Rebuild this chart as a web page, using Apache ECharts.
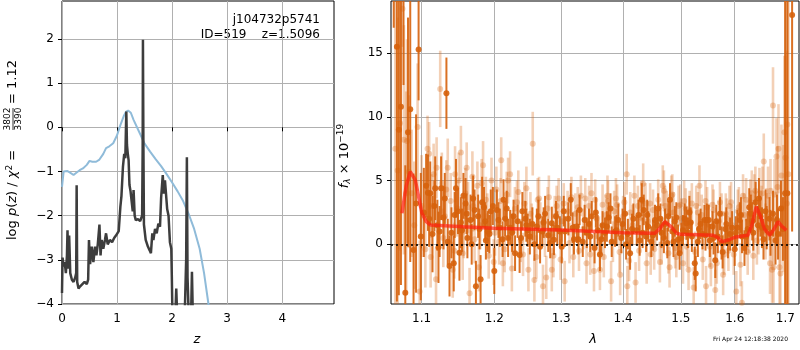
<!DOCTYPE html>
<html>
<head>
<meta charset="utf-8">
<script src="https://cdn.jsdelivr.net/npm/echarts@6.0.0/dist/echarts.min.js"></script>
<style>
html, body { margin: 0; padding: 0; background: #fff; }
#chart { width: 800px; height: 350px; }
</style>
</head>
<body>
<div id="chart"></div>
<script>
// ---- left panel: redshift probability ----
var zTicks = [0, 1, 2, 3, 4];
var pTicks = [-4, -3, -2, -1, 0, 1, 2];

// dark line: log p(z)
var zFit = [0.000, 0.010, 0.030, 0.050, 0.070, 0.090, 0.100, 0.115, 0.130, 0.150, 0.180, 0.210, 0.240, 0.258, 0.266, 0.276,
  0.300, 0.330, 0.370, 0.410, 0.450, 0.475, 0.490, 0.510, 0.540, 0.570, 0.600, 0.625, 0.650, 0.680, 0.700, 0.720, 0.750,
  0.780, 0.800, 0.830, 0.870, 0.910, 0.950, 0.980, 1.000, 1.030, 1.047, 1.060, 1.080, 1.107, 1.130, 1.150, 1.168, 1.180,
  1.195, 1.210, 1.225, 1.245, 1.265, 1.285, 1.300, 1.320, 1.340, 1.380, 1.420, 1.455, 1.465, 1.470, 1.478, 1.488, 1.520,
  1.560, 1.590, 1.615, 1.640, 1.660, 1.690, 1.720, 1.750, 1.780, 1.800, 1.830, 1.850, 1.870, 1.910, 1.935, 1.960, 1.985,
  1.995, 2.005, 2.060, 2.075, 2.090, 2.230, 2.255, 2.268, 2.280, 2.300, 2.345, 2.360, 2.375, 4.940];
var logpFit = [-3.75, -2.95, -3.15, -3.05, -3.30, -2.90, -2.33, -3.20, -2.45, -3.30, -3.45, -3.50, -3.40, -3.30, -1.31, -3.50,
  -3.65, -3.60, -3.55, -3.50, -3.55, -3.45, -2.55, -3.10, -2.70, -3.05, -2.70, -2.90, -2.65, -2.20, -2.90, -2.55, -2.75,
  -2.55, -2.40, -2.65, -2.55, -2.60, -2.50, -2.45, -2.45, -2.35, -2.35, -1.80, -1.55, -0.89, -0.60, -0.70, 0.36, -0.40,
  -0.60, -0.75, -1.30, -1.45, -1.42, -1.90, -1.42, -2.00, -2.10, -2.08, -2.12, -2.00, -0.50, 1.98, -0.30, -2.20, -2.55,
  -2.70, -2.78, -2.85, -2.40, -2.55, -2.30, -2.40, -2.18, -2.25, -1.60, -1.08, -1.50, -1.20, -1.85, -2.00, -2.60, -2.75,
  -3.40, -4.20, -4.20, -3.65, -4.20, -4.20, -3.00, -0.68, -3.40, -4.20, -4.20, -3.27, -4.20, -4.20];

// light blue line: chi2 curve
var zChi = [0.000, 0.030, 0.100, 0.140, 0.210, 0.260, 0.320, 0.380, 0.450, 0.500, 0.550, 0.620, 0.680, 0.750, 0.800,
  0.860, 0.930, 1.000, 1.060, 1.120, 1.160, 1.200, 1.250, 1.300, 1.400, 1.500, 1.600, 1.700, 1.800, 1.900, 2.000,
  2.100, 2.200, 2.300, 2.400, 2.500, 2.580, 2.660, 2.720];
var logpChi = [-1.35, -1.00, -0.99, -1.02, -1.08, -1.03, -0.97, -0.93, -0.85, -0.76, -0.78, -0.78, -0.73, -0.60, -0.47,
  -0.43, -0.36, -0.18, 0.05, 0.25, 0.35, 0.38, 0.33, 0.17, -0.10, -0.37, -0.55, -0.72, -0.88, -1.06, -1.25,
  -1.45, -1.67, -1.96, -2.30, -2.75, -3.30, -4.00, -4.60];

// ---- right panel: spectrum ----
var lamTicks = [1.1, 1.2, 1.3, 1.4, 1.5, 1.6, 1.7];
var fluxTicks = [0, 5, 10, 15];

// strong (dark) points
var lamHi = [1.0640, 1.0680, 1.0705, 1.0732, 1.0765, 1.0788, 1.0823, 1.0852, 1.0895, 1.0928, 1.0961, 1.0990, 1.1030,
  1.1060, 1.1084, 1.1115, 1.1145, 1.1181, 1.1210, 1.1225, 1.1260, 1.1292, 1.1332, 1.1374, 1.1400, 1.1432, 1.1463, 1.1490,
  1.1510, 1.1530, 1.1565, 1.1594, 1.1620, 1.1664, 1.1700, 1.1739, 1.1770, 1.1805, 1.1827, 1.1853, 1.1880, 1.1907, 1.1950,
  1.2000, 1.2037, 1.2080, 1.2133, 1.2157, 1.2200, 1.2259, 1.2302, 1.2340, 1.2369, 1.2410, 1.2454, 1.2490, 1.2522, 1.2560,
  1.2627, 1.2676, 1.2710, 1.2752, 1.2800, 1.2855, 1.2888, 1.2940, 1.3009, 1.3060, 1.3112, 1.3150, 1.3200, 1.3245, 1.3290,
  1.3340, 1.3404, 1.3440, 1.3484, 1.3530, 1.3580, 1.3617, 1.3660, 1.3700, 1.3760, 1.3810, 1.3866, 1.3920, 1.3970, 1.4033,
  1.4080, 1.4117, 1.4173, 1.4230, 1.4280, 1.4316, 1.4350, 1.4390, 1.4427, 1.4480, 1.4544, 1.4600, 1.4657, 1.4720, 1.4760,
  1.4808, 1.4850, 1.4893, 1.4951, 1.4979, 1.5040, 1.5101, 1.5155, 1.5200, 1.5253, 1.5270, 1.5330, 1.5395, 1.5430, 1.5474,
  1.5530, 1.5580, 1.5632, 1.5680, 1.5720, 1.5770, 1.5820, 1.5870, 1.5912, 1.6000, 1.6050, 1.6098, 1.6140, 1.6188, 1.6250,
  1.6312, 1.6360, 1.6405, 1.6450, 1.6498, 1.6560, 1.6623, 1.6680, 1.6750, 1.6800, 1.6851, 1.6910, 1.6950, 1.6994, 1.7040,
  1.7137,
  1.1100, 1.1170, 1.1240, 1.1310, 1.1350, 1.1445, 1.1545, 1.1610, 1.1680, 1.1720, 1.1790, 1.1870, 1.1930, 1.1980, 1.2060,
  1.2120, 1.2180, 1.2230, 1.2280, 1.2390, 1.2470, 1.2590, 1.2650, 1.2730, 1.2830, 1.2920, 1.2980, 1.3040, 1.3180, 1.3270,
  1.3370, 1.3460, 1.3550, 1.3640, 1.3730, 1.3790, 1.3890, 1.3990, 1.4050, 1.4150, 1.4260, 1.4330, 1.4410, 1.4510, 1.4580,
  1.4640, 1.4700, 1.4780, 1.4870, 1.4920, 1.5010, 1.5070, 1.5130, 1.5180, 1.5310, 1.5360, 1.5450, 1.5510, 1.5600, 1.5650,
  1.5750, 1.5840, 1.5950, 1.6020, 1.6120, 1.6220, 1.6280, 1.6340, 1.6470, 1.6530, 1.6600, 1.6700, 1.6830];
var fluxHi = [20.0, 15.5, 9.0, 10.8, 20.5, -3.8, 8.8, 10.6, -0.45, 3.2, 15.3, 0.6, 2.5,
  4.6, 4.05, 4.0, 0.8, 4.4, 1.5, -0.24, 4.4, 2.1, 11.86, -1.7, 0.9, -1.5, 4.4, 2.6,
  -0.66, 1.7, 3.8, 3.2, 0.5, 1.9, 3.6, -3.3, 2.2, -2.75, 3.3, 2.9, 0.3, 1.0, 2.6,
  -2.1, 2.7, 1.3, 3.5, 2.0, 0.5, 0.9, -0.7, 1.8, -0.85, 2.6, 2.0, 1.1, 0.6, 1.6,
  1.4, -0.2, 1.0, 2.4, 0.7, 1.65, 0.35, 1.3, -0.2, 1.0, 2.0, 3.5, 0.4, 1.4, 2.7,
  0.2, 0.9, 1.6, 2.2, -0.3, 1.1, -0.8, 1.5, 0.9, 2.1, 0.2, 1.0, 1.9, 0.5, 2.4,
  0.8, -0.7, 2.0, 1.1, 0.3, 3.5, 2.7, 0.6, 1.4, 0.2, 1.9, 2.8, 0.9, 1.6, 0.1,
  3.5, 1.0, 1.8, 0.35, -0.7, 1.1, 1.65, 2.5, 0.6, -1.5, -2.3, 1.2, 0.8, 1.9, 1.9,
  0.3, 1.4, -1.25, 0.6, 2.4, -0.6, 1.2, 0.2, 0.8, -0.4, 1.3, 1.9, 0.6, -0.3, 1.2,
  2.4, 0.9, 3.3, 1.5, 2.2, 0.4, 1.3, 2.0, 2.4, 0.3, 0.8, 2.8, 1.2, 4.0, 4.0,
  18.0,
  2.0, 3.0, 1.0, 3.6, 0.2, 2.3, 1.1, 2.4, 0.0, 2.7, 1.2, 1.8, 0.8, 3.0, 1.9,
  0.4, 2.8, 1.3, 2.2, 0.5, 1.5, 0.0, 2.2, 1.7, 0.1, 2.2, 1.0, 2.6, 1.3, 0.4,
  1.9, 0.6, 2.5, 0.4, 1.4, 2.8, 1.1, 1.6, 0.0, 1.2, 2.3, 0.9, 2.3, 0.7, 1.5,
  2.0, 0.5, 2.2, 0.2, 2.1, 0.5, 2.0, 0.9, 1.7, 0.2, 1.6, 0.7, 1.9, 0.5, 1.8,
  0.1, 1.6, 1.3, 0.9, 2.3, 0.6, 2.9, 1.8, 3.6, 1.3, 2.6, 0.9, 1.9];
var errHi = [3.0, 20, 13, 14, 8, 10, 9, 12, 6, 7, 4, 5, 3.5,
  2.5, 3, 2.5, 3, 2.5, 2, 2.8, 2.5, 2.5, 2.8, 2.4, 2.0, 2.2, 2.3, 1.8,
  2.2, 2.0, 1.8, 2.0, 1.6, 2.0, 1.8, 2.0, 1.7, 1.9, 2.0, 1.6, 1.5, 1.6, 1.7,
  1.8, 1.6, 1.5, 1.6, 1.4, 1.5, 1.5, 1.4, 1.3, 1.4, 1.5, 1.4, 1.3, 1.4, 1.3,
  1.4, 1.3, 1.2, 1.4, 1.3, 1.3, 1.2, 1.3, 1.3, 1.2, 1.3, 1.3, 1.2, 1.3, 1.2,
  1.2, 1.2, 1.2, 1.2, 1.2, 1.2, 1.3, 1.1, 1.2, 1.2, 1.2, 1.2, 1.3, 1.2, 1.3,
  1.2, 1.3, 1.2, 1.2, 1.2, 1.3, 1.2, 1.2, 1.2, 1.2, 1.2, 1.2, 1.2, 1.2, 1.2,
  1.3, 1.2, 1.2, 1.2, 1.3, 1.2, 1.3, 1.3, 1.2, 1.3, 1.4, 1.2, 1.2, 1.2, 1.3,
  1.3, 1.2, 1.4, 1.3, 1.3, 1.3, 1.3, 1.3, 1.3, 1.3, 1.4, 1.4, 1.3, 1.4, 1.4,
  1.5, 1.4, 1.6, 1.5, 1.6, 1.6, 1.7, 1.7, 1.8, 1.9, 2.0, 2.2, 2.5, 16, 16,
  17,
  2.2, 2.0, 2.0, 2.0, 1.8, 1.8, 1.7, 1.6, 1.6, 1.6, 1.6, 1.5, 1.5, 1.5, 1.4,
  1.4, 1.4, 1.4, 1.3, 1.3, 1.3, 1.3, 1.3, 1.2, 1.2, 1.2, 1.2, 1.2, 1.2, 1.2,
  1.2, 1.2, 1.2, 1.2, 1.2, 1.2, 1.2, 1.2, 1.2, 1.2, 1.2, 1.2, 1.2, 1.2, 1.2,
  1.2, 1.2, 1.2, 1.2, 1.2, 1.2, 1.2, 1.2, 1.2, 1.2, 1.2, 1.2, 1.2, 1.3, 1.3,
  1.3, 1.3, 1.3, 1.3, 1.4, 1.4, 1.5, 1.5, 1.6, 1.6, 1.7, 1.8, 2.0];

// weak (light) points
var lamLo = [1.0660, 1.0690, 1.0720, 1.0752, 1.0770, 1.0800, 1.0810, 1.0835, 1.0870, 1.0905, 1.0948, 1.0975, 1.1000,
  1.1050, 1.1079, 1.1100, 1.1130, 1.1160, 1.1192, 1.1248, 1.1270, 1.1310, 1.1350, 1.1390, 1.1418, 1.1450, 1.1480, 1.1530,
  1.1555, 1.1590, 1.1630, 1.1650, 1.1690, 1.1720, 1.1760, 1.1800, 1.1840, 1.1880, 1.1920, 1.1992, 1.2030, 1.2070, 1.2100,
  1.2124, 1.2180, 1.2229, 1.2255, 1.2300, 1.2350, 1.2385, 1.2440, 1.2500, 1.2530, 1.2565, 1.2590, 1.2640, 1.2680, 1.2720,
  1.2770, 1.2810, 1.2855, 1.2900, 1.2960, 1.3010, 1.3054, 1.3100, 1.3160, 1.3190, 1.3260, 1.3310, 1.3350, 1.3400, 1.3440,
  1.3480, 1.3520, 1.3560, 1.3617, 1.3660, 1.3710, 1.3750, 1.3800, 1.3850, 1.3900, 1.3950, 1.4000, 1.4060, 1.4070, 1.4120,
  1.4160, 1.4210, 1.4250, 1.4290, 1.4340, 1.4380, 1.4420, 1.4470, 1.4510, 1.4550, 1.4630, 1.4680, 1.4700, 1.4750, 1.4779,
  1.4830, 1.4870, 1.4920, 1.4960, 1.5010, 1.5060, 1.5110, 1.5160, 1.5233, 1.5280, 1.5339, 1.5380, 1.5450, 1.5460, 1.5500,
  1.5550, 1.5600, 1.5632, 1.5700, 1.5750, 1.5800, 1.5850, 1.5900, 1.5950, 1.6030, 1.6080, 1.6138, 1.6180, 1.6220, 1.6280,
  1.6330, 1.6380, 1.6430, 1.6480, 1.6520, 1.6566, 1.6600, 1.6650, 1.6690, 1.6730, 1.6750, 1.6780, 1.6820, 1.6860, 1.6880,
  1.6920, 1.6960, 1.7000, 1.7030, 1.7040, 1.7060,
  1.1120, 1.1200, 1.1290, 1.1330, 1.1440, 1.1500, 1.1570, 1.1610, 1.1700, 1.1780, 1.1820, 1.1900, 1.1960, 1.2010, 1.2090,
  1.2150, 1.2200, 1.2270, 1.2330, 1.2420, 1.2470, 1.2550, 1.2620, 1.2660, 1.2750, 1.2790, 1.2880, 1.2930, 1.2990, 1.3040,
  1.3130, 1.3220, 1.3280, 1.3380, 1.3460, 1.3540, 1.3600, 1.3680, 1.3740, 1.3830, 1.3880, 1.3940, 1.4020, 1.4100, 1.4190,
  1.4270, 1.4310, 1.4400, 1.4460, 1.4530, 1.4600, 1.4660, 1.4720, 1.4800, 1.4850, 1.4900, 1.4990, 1.5040, 1.5090, 1.5140,
  1.5200, 1.5260, 1.5310, 1.5400, 1.5480, 1.5530, 1.5580, 1.5660, 1.5720, 1.5780, 1.5830, 1.5880, 1.5930, 1.5980, 1.6060,
  1.6110, 1.6160, 1.6250, 1.6300, 1.6360, 1.6400, 1.6460, 1.6540, 1.6620, 1.6700, 1.6760, 1.6840, 1.6900, 1.6980];
var fluxLo = [7.5, 5.8, 9.5, 18.5, 8.2, 4.0, 8.1, 5.7, 4.0, 1.5, 9.2, -3.7, 3.0,
  -0.4, 7.5, 7.1, 3.0, 5.5, -2.75, 12.2, 4.8, 2.2, 6.0, 3.4, -2.0, 5.5, 2.8, 7.2,
  -0.7, 4.0, 2.9, -3.85, 5.3, 0.4, 4.6, 1.5, 6.2, 3.5, -0.9, -1.4, 4.3, 0.2, 6.6,
  -1.5, 3.9, 5.5, -1.9, 2.8, 4.1, 0.3, 3.2, -2.0, 2.4, 7.9, -2.8, 3.5, 1.6, -3.3,
  -2.6, 3.7, -2.0, 2.2, 3.6, 1.8, -2.9, 2.6, 3.7, -1.0, 2.9, 3.8, 1.2, -1.5, 3.0,
  4.0, -2.1, 2.0, -2.0, 3.1, 2.3, 3.4, -2.9, 2.6, 3.1, -2.4, 2.2, 5.5, -3.3, 2.5,
  1.5, -3.0, 3.0, 2.1, 4.75, 3.2, 1.8, -0.8, 2.7, 1.4, -1.4, 4.6, 4.2, 2.6, -0.7,
  3.8, 2.5, -1.0, 3.0, 2.0, 3.4, -0.2, 2.6, -3.4, 3.0, 4.6, 2.3, 3.4, -3.3, 1.6,
  -1.7, 2.7, -3.6, 1.8, 2.4, -0.8, 2.0, 3.0, 1.5, -3.7, 2.9, -4.6, 2.3, 3.5, 1.1,
  4.0, 3.6, 0.3, 4.0, 2.6, 6.5, 1.0, 3.8, -1.5, -2.0, 10.9, 3.9, 6.9, 7.5, -1.8,
  5.4, 2.8, 6.8, 3.2, 9.4, 5.5,
  -1.0, 6.0, 0.5, 4.3, -0.5, 5.0, 1.0, 6.0, 3.0, -1.8, 4.8, 2.2, 5.0, 0.9, 3.4,
  -0.4, 5.0, 1.0, 3.3, -0.8, 4.4, 1.5, -1.0, 3.6, 0.7, 2.8, -0.9, 3.0, -1.2, 3.2,
  0.1, 2.4, -0.5, 3.6, -0.8, 3.5, 0.6, -1.0, 3.8, 0.2, 3.6, -0.6, 3.3, -1.3, 3.8,
  -0.5, 3.4, -1.5, 3.2, -0.4, 3.5, 0.0, 3.0, -1.8, 3.9, -0.3, 3.1, -1.5, 2.8, -2.0,
  3.2, -0.6, 2.5, -1.2, 2.9, -0.2, 3.1, -1.5, 3.3, -2.4, 2.4, -0.5, 3.3, -0.8, 2.6,
  -1.6, 3.8, -0.6, 3.3, -0.9, 4.2, 1.2, 4.0, 2.2, 4.2, -1.8, 4.5, -2.3, 8.8];
var errLo = [14, 12, 10, 3, 9, 8, 8, 6, 5, 5, 5, 4, 4,
  3.0, 2.6, 2.5, 2.5, 2.4, 2.5, 3.0, 2.4, 2.3, 2.3, 2.2, 2.2, 2.2, 2.2, 2.1,
  2.1, 2.0, 2.0, 2.0, 2.0, 1.9, 1.9, 1.9, 1.9, 1.8, 1.8, 1.8, 1.8, 1.8, 1.8,
  1.8, 1.8, 1.8, 1.8, 1.7, 1.7, 1.7, 1.7, 1.7, 1.7, 2.5, 1.7, 1.7, 1.7, 1.7,
  1.7, 1.7, 1.7, 1.6, 1.6, 1.6, 1.6, 1.6, 1.6, 1.6, 1.6, 1.6, 1.6, 1.6, 1.6,
  1.6, 1.6, 1.6, 1.6, 1.6, 1.6, 1.6, 1.6, 1.6, 1.6, 1.6, 1.6, 1.6, 1.6, 1.6,
  1.6, 1.6, 1.6, 1.6, 1.6, 1.6, 1.6, 1.6, 1.6, 1.6, 1.6, 1.6, 1.6, 1.6, 1.6,
  1.6, 1.6, 1.6, 1.6, 1.6, 1.6, 1.6, 1.6, 1.6, 1.6, 1.6, 1.6, 1.6, 1.6, 1.6,
  1.6, 1.6, 1.6, 1.6, 1.6, 1.6, 1.6, 1.6, 1.6, 1.6, 1.6, 1.7, 1.7, 1.7, 1.8,
  1.8, 1.9, 1.9, 2.0, 2.0, 2.2, 2.2, 2.3, 2.4, 2.6, 3.0, 2.8, 3.0, 3.5, 3.5,
  4.0, 5, 8, 12, 16, 16,
  2.4, 2.4, 2.3, 2.3, 2.2, 2.2, 2.1, 2.0, 2.0, 1.9, 1.9, 1.8, 1.8, 1.8, 1.8,
  1.8, 1.8, 1.7, 1.7, 1.7, 1.7, 1.7, 1.7, 1.7, 1.7, 1.7, 1.7, 1.6, 1.6, 1.6,
  1.6, 1.6, 1.6, 1.6, 1.6, 1.6, 1.6, 1.6, 1.6, 1.6, 1.6, 1.6, 1.6, 1.6, 1.6,
  1.6, 1.6, 1.6, 1.6, 1.6, 1.6, 1.6, 1.6, 1.6, 1.6, 1.6, 1.6, 1.6, 1.6, 1.6,
  1.6, 1.6, 1.6, 1.6, 1.6, 1.6, 1.6, 1.6, 1.6, 1.6, 1.6, 1.6, 1.6, 1.6, 1.7,
  1.7, 1.7, 1.8, 1.8, 1.9, 1.9, 2.0, 2.1, 2.2, 2.5, 2.8, 3.2, 3.8, 6];

// model curve
var lamModel = [1.0745, 1.0800, 1.0852, 1.0917, 1.1005, 1.1060, 1.1115, 1.1566, 1.2000, 1.3000, 1.4000, 1.4544, 1.4640,
  1.4718, 1.4820, 1.4927, 1.5000, 1.5594, 1.5680, 1.5751, 1.5877, 1.6000, 1.6254, 1.6330, 1.6418, 1.6500, 1.6580, 1.6685,
  1.6770, 1.6851, 1.6930, 1.7020];
var fluxModel = [2.43, 4.6, 5.7, 5.05, 2.43, 1.8, 1.52, 1.38, 1.26, 1.12, 0.91, 0.86, 1.3,
  1.78, 1.4, 0.86, 0.78, 0.70, 0.55, 0.20, 0.33, 0.55, 0.70, 1.5, 2.95, 2.2, 1.2, 0.70,
  1.2, 1.78, 1.4, 1.1];

// ---- options ----
var FONT = 'DejaVu Sans';
var fluxMin = -4.69, fluxMax = 19.1;
var lamMin = Math.log10(1.0605), lamMax = Math.log10(1.7279);
var darkOrange = '#d6620c';

function pairs(xs, ys) {
  return xs.map(function (x, i) { return [x, ys[i]]; });
}
function specData(lams, fl, er) {
  return lams.map(function (l, i) { return [Math.log10(l), fl[i], er[i]]; });
}
function minus(v) {
  return v < 0 ? '\u2212' + Math.abs(v) : String(v);
}
function errBars(color, width, opacity) {
  return function (params, api) {
    var x = api.value(0), y = api.value(1), e = api.value(2);
    var lo = Math.max(y - e, fluxMin), hi = Math.min(y + e, fluxMax);
    if (lo >= hi) return null;
    var p1 = api.coord([x, lo]), p2 = api.coord([x, hi]);
    return {
      type: 'line',
      shape: { x1: p1[0], y1: p1[1], x2: p2[0], y2: p2[1] },
      style: { stroke: color, lineWidth: width, opacity: opacity }
    };
  };
}

var hiData = specData(lamHi, fluxHi, errHi);
var loData = specData(lamLo, fluxLo, errLo);
var lamLog = lamTicks.map(function (l) { return Math.log10(l); });

var axisText = { color: '#000', fontFamily: FONT, fontSize: 12 };
var gridLine = { show: true, lineStyle: { color: '#b0b0b0', width: 1 } };
var tickStyle = { length: 4, lineStyle: { color: '#000', width: 1 } };

var chart = echarts.init(document.getElementById('chart'));
var option = {
  backgroundColor: '#fff',
  animation: false,
  textStyle: { fontFamily: FONT },
  grid: [
    { left: 62, top: 1, width: 272, height: 303, show: true, borderColor: '#000', borderWidth: 1 },
    { left: 391, top: 1, width: 408, height: 303, show: true, borderColor: '#000', borderWidth: 1 }
  ],
  xAxis: [
    {
      gridIndex: 0, type: 'value', min: 0, max: 4.94,
      axisLine: { show: false },
      axisTick: Object.assign({ customValues: zTicks }, tickStyle),
      axisLabel: Object.assign({ customValues: zTicks, margin: 9, formatter: minus }, axisText),
      splitLine: gridLine
    },
    {
      gridIndex: 1, type: 'value', min: lamMin, max: lamMax,
      axisLine: { show: false },
      axisTick: Object.assign({ customValues: lamLog }, tickStyle),
      axisLabel: Object.assign({
        customValues: lamLog, margin: 9,
        formatter: function (v) { return Math.pow(10, v).toFixed(1); }
      }, axisText),
      splitLine: gridLine
    }
  ],
  yAxis: [
    {
      gridIndex: 0, type: 'value', min: -4, max: 2.86,
      axisLine: { show: false },
      axisTick: Object.assign({ customValues: pTicks }, tickStyle),
      axisLabel: Object.assign({ customValues: pTicks, margin: 8, formatter: minus }, axisText),
      splitLine: gridLine
    },
    {
      gridIndex: 1, type: 'value', min: fluxMin, max: fluxMax,
      axisLine: { show: false },
      axisTick: Object.assign({ customValues: fluxTicks }, tickStyle),
      axisLabel: Object.assign({ customValues: fluxTicks, margin: 8, formatter: minus }, axisText),
      splitLine: gridLine
    }
  ],
  series: [
    {
      type: 'line', xAxisIndex: 0, yAxisIndex: 0, data: pairs(zChi, logpChi),
      showSymbol: false, symbol: 'none', clip: true, z: 2,
      lineStyle: { color: '#8fbbd9', width: 2 }
    },
    {
      type: 'line', xAxisIndex: 0, yAxisIndex: 0, data: pairs(zFit, logpFit),
      showSymbol: false, symbol: 'none', clip: true, z: 3,
      lineStyle: { color: '#3d3d3d', width: 2.5 }
    },
    {
      type: 'custom', xAxisIndex: 1, yAxisIndex: 1, data: loData, clip: true, z: 2,
      encode: { x: 0, y: 1 },
      renderItem: errBars(darkOrange, 2.6, 0.3)
    },
    {
      type: 'scatter', xAxisIndex: 1, yAxisIndex: 1, data: loData.map(function (d) { return [d[0], d[1]]; }),
      symbolSize: 6, clip: true, z: 2,
      itemStyle: { color: darkOrange, opacity: 0.3 }
    },
    {
      type: 'custom', xAxisIndex: 1, yAxisIndex: 1, data: hiData, clip: true, z: 3,
      encode: { x: 0, y: 1 },
      renderItem: errBars(darkOrange, 2, 0.9)
    },
    {
      type: 'scatter', xAxisIndex: 1, yAxisIndex: 1, data: hiData.map(function (d) { return [d[0], d[1]]; }),
      symbolSize: 6, clip: true, z: 3,
      itemStyle: { color: darkOrange, opacity: 0.9 }
    },
    {
      type: 'line', xAxisIndex: 1, yAxisIndex: 1,
      data: lamModel.map(function (l, i) { return [Math.log10(l), fluxModel[i]]; }),
      showSymbol: false, symbol: 'none', z: 4,
      lineStyle: { color: '#ff2010', width: 3.5, opacity: 0.7 },
      markLine: {
        silent: true, symbol: 'none', label: { show: false },
        lineStyle: { color: '#000', width: 2, type: [2, 3], opacity: 0.8 },
        data: [{ yAxis: 0 }]
      }
    }
  ],
  graphic: [
    {
      type: 'text', right: 480, top: 14,
      style: { text: 'j104732p5741', fill: '#000', font: '12px "DejaVu Sans"', textAlign: 'right' }
    },
    {
      type: 'text', right: 480, top: 29,
      style: { text: 'ID=519    z=1.5096', fill: '#000', font: '12px "DejaVu Sans"', textAlign: 'right' }
    },
    {
      type: 'text', x: 197, y: 340,
      style: { text: 'z', fill: '#000', font: 'italic 13px "DejaVu Sans"', textAlign: 'center', textVerticalAlign: 'middle' }
    },
    {
      type: 'text', x: 593, y: 340,
      style: { text: '\u03bb', fill: '#000', font: 'italic 13px "DejaVu Sans"', textAlign: 'center', textVerticalAlign: 'middle' }
    },
    {
      type: 'text', x: 788, y: 339,
      style: { text: 'Fri Apr 24 12:18:38 2020', fill: '#000', font: '6px "DejaVu Sans"', textAlign: 'right', textVerticalAlign: 'middle' }
    },
    {
      type: 'group', x: 13, y: 240, rotation: Math.PI / 2,
      children: [
        {
          type: 'text', x: 0, y: 0,
          style: {
            text: '{r|log }{i|p}{r|(}{i|z}{r|) / }{i|\u03c7}{s|2}{r| = }',
            textVerticalAlign: 'middle', textAlign: 'left',
            rich: {
              r: { fontFamily: FONT, fontSize: 13, color: '#000' },
              i: { fontFamily: FONT, fontSize: 13, fontStyle: 'italic', color: '#000' },
              s: { fontFamily: FONT, fontSize: 9, color: '#000', padding: [0, 0, 7, 0] }
            }
          }
        },
        {
          type: 'text', x: 121, y: -5,
          style: { text: '3802', fill: '#000', font: '9px "DejaVu Sans"', textAlign: 'center', textVerticalAlign: 'middle' }
        },
        {
          type: 'line', shape: { x1: 110, y1: 0, x2: 132, y2: 0 },
          style: { stroke: '#000', lineWidth: 0.8 }
        },
        {
          type: 'text', x: 121, y: 6,
          style: { text: '3390', fill: '#000', font: '9px "DejaVu Sans"', textAlign: 'center', textVerticalAlign: 'middle' }
        },
        {
          type: 'text', x: 136, y: 0,
          style: { text: '= 1.12', fill: '#000', font: '13px "DejaVu Sans"', textAlign: 'left', textVerticalAlign: 'middle' }
        }
      ]
    },
    {
      type: 'text', x: 345, y: 156, rotation: Math.PI / 2,
      style: {
        text: '{i|f}{sub|\u03bb}{r| \u00d7 10}{sup|\u221219}',
        textAlign: 'center', textVerticalAlign: 'middle',
        rich: {
          r: { fontFamily: FONT, fontSize: 13, color: '#000' },
          i: { fontFamily: FONT, fontSize: 13, fontStyle: 'italic', color: '#000' },
          sub: { fontFamily: FONT, fontSize: 9, fontStyle: 'italic', color: '#000', padding: [6, 0, 0, 0] },
          sup: { fontFamily: FONT, fontSize: 9, color: '#000', padding: [0, 0, 8, 0] }
        }
      }
    }
  ]
};
chart.setOption(option);
</script>
</body>
</html>
